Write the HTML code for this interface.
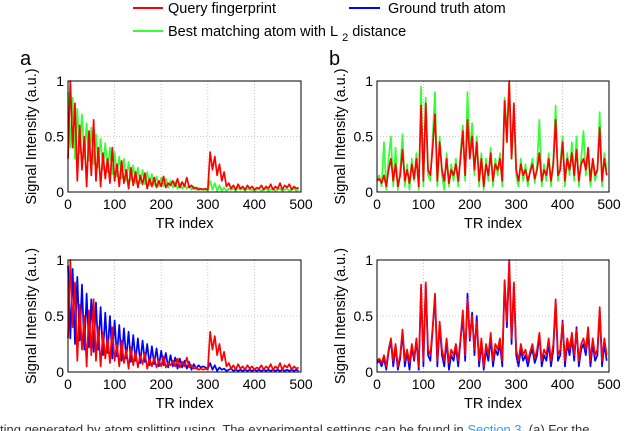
<!DOCTYPE html>
<html><head><meta charset="utf-8"><style>
body{margin:0;background:#fff;width:640px;height:431px;overflow:hidden;font-family:"Liberation Sans",sans-serif}
svg{display:block}
</style></head><body>
<svg id="c" width="640" height="431" font-family="Liberation Sans, sans-serif">
<g>
<line x1="133" y1="8" x2="163" y2="8" stroke="#f00" stroke-width="2"/>
<text x="168" y="13" font-size="14.5">Query fingerprint</text>
<line x1="349" y1="8" x2="380" y2="8" stroke="#00f" stroke-width="2"/>
<text x="388" y="13" font-size="14.5">Ground truth atom</text>
<line x1="133" y1="31" x2="163" y2="31" stroke="#3f3" stroke-width="2"/>
<text x="168" y="36" font-size="14.5">Best matching atom with L<tspan font-size="11" dx="4" dy="5">2</tspan><tspan dx="4" dy="-5">distance</tspan></text>
</g>
<text x="20" y="65" font-size="20">a</text>
<text x="329" y="65" font-size="20">b</text>
<text x="0" y="434" font-size="13" fill="#333">ting generated by atom splitting using. The experimental settings can be found in <tspan fill="#39f">Section 3</tspan>. (a) For the</text>
</svg>
<script>
const xTicks=[0,100,200,300,400,500];
const yTicks=[0,0.5,1];
const aQuery=[0.3,1.0,0.4,0.8,0.1,0.6,0.2,0.5,0.05,0.55,0.15,0.65,0.1,0.4,0.05,0.35,0.12,0.3,0.08,0.4,
0.1,0.25,0.05,0.28,0.08,0.2,0.03,0.22,0.06,0.18,0.04,0.15,0.07,0.17,0.03,0.12,0.05,0.13,0.04,0.1,
0.05,0.14,0.04,0.08,0.06,0.1,0.05,0.12,0.04,0.09,0.05,0.13,0.04,0.06,0.03,0.04,0.02,0.03,0.02,0.03,
0.02,0.36,0.2,0.32,0.15,0.25,0.1,0.18,0.05,0.08,0.03,0.06,0.02,0.07,0.03,0.05,0.02,0.06,0.03,0.05,
0.02,0.04,0.03,0.06,0.02,0.05,0.03,0.07,0.02,0.05,0.03,0.08,0.02,0.06,0.04,0.07,0.02,0.05,0.03,0.04];
const aBest=[0.9,0.4,0.85,0.3,0.75,0.35,0.7,0.3,0.62,0.28,0.58,0.25,0.52,0.22,0.48,0.2,0.44,0.18,0.4,0.16,
0.36,0.14,0.32,0.12,0.3,0.1,0.27,0.1,0.24,0.08,0.22,0.08,0.2,0.07,0.18,0.06,0.16,0.06,0.14,0.05,
0.13,0.05,0.12,0.04,0.1,0.04,0.09,0.03,0.08,0.03,0.07,0.03,0.06,0.02,0.05,0.02,0.04,0.02,0.03,0.02,
0.01,0.1,0.02,0.08,0.01,0.06,0.01,0.04,0.01,0.03,0.02,0.03,0.01,0.04,0.02,0.03,0.01,0.03,0.02,0.02,
0.01,0.02,0.03,0.01,0.02,0.03,0.01,0.02,0.03,0.01,0.02,0.03,0.01,0.02,0.03,0.01,0.02,0.03,0.01,0.02];
const aTruth=[0.95,0.3,0.92,0.25,0.85,0.28,0.78,0.2,0.7,0.22,0.65,0.18,0.62,0.2,0.58,0.15,0.53,0.17,0.5,0.12,
0.46,0.14,0.42,0.1,0.39,0.12,0.36,0.09,0.33,0.1,0.3,0.08,0.28,0.09,0.25,0.06,0.23,0.07,0.21,0.05,
0.19,0.06,0.17,0.04,0.15,0.05,0.13,0.03,0.12,0.04,0.1,0.03,0.09,0.02,0.07,0.03,0.06,0.04,0.05,0.04,
0.03,0.08,0.02,0.06,0.01,0.04,0.02,0.03,0.01,0.02,0.03,0.01,0.02,0.01,0.02,0.01,0.02,0.01,0.02,0.01,
0.02,0.01,0.02,0.01,0.02,0.01,0.02,0.01,0.02,0.01,0.02,0.01,0.02,0.01,0.02,0.01,0.02,0.01,0.02,0.01];
const bQuery=[0.1,0.12,0.08,0.15,0.05,0.2,0.3,0.1,0.25,0.05,0.15,0.38,0.1,0.2,0.08,0.25,0.12,0.3,0.05,0.78,
0.1,0.8,0.2,0.15,0.4,0.7,0.1,0.45,0.2,0.1,0.3,0.08,0.2,0.15,0.25,0.1,0.3,0.55,0.15,0.65,
0.3,0.5,0.2,0.45,0.1,0.3,0.05,0.25,0.15,0.35,0.1,0.25,0.2,0.3,0.1,0.82,0.45,1.0,0.3,0.8,
0.2,0.1,0.25,0.15,0.2,0.1,0.18,0.25,0.12,0.2,0.35,0.1,0.2,0.15,0.3,0.1,0.25,0.65,0.15,0.2,
0.45,0.1,0.3,0.2,0.35,0.15,0.38,0.1,0.25,0.3,0.2,0.4,0.1,0.3,0.15,0.2,0.58,0.1,0.3,0.15];
const bBest=[0.12,0.15,0.05,0.45,0.02,0.3,0.5,0.05,0.4,0.02,0.2,0.52,0.05,0.25,0.02,0.3,0.1,0.35,0.02,0.95,
0.05,0.85,0.15,0.1,0.5,0.9,0.05,0.5,0.15,0.02,0.35,0.05,0.25,0.1,0.3,0.05,0.35,0.6,0.1,0.9,
0.35,0.62,0.15,0.5,0.05,0.35,0.02,0.3,0.1,0.4,0.05,0.3,0.15,0.35,0.05,0.85,0.55,0.98,0.3,0.75,
0.15,0.05,0.3,0.1,0.25,0.05,0.2,0.3,0.08,0.25,0.65,0.05,0.25,0.1,0.35,0.05,0.3,0.78,0.1,0.25,
0.5,0.05,0.35,0.15,0.45,0.1,0.5,0.05,0.3,0.55,0.15,0.35,0.05,0.3,0.1,0.2,0.72,0.05,0.35,0.2];
const bTruth=[0.08,0.1,0.05,0.12,0.02,0.18,0.28,0.05,0.22,0.02,0.12,0.35,0.05,0.18,0.02,0.22,0.1,0.28,0.02,0.75,
0.05,0.78,0.15,0.1,0.38,0.68,0.05,0.42,0.15,0.05,0.28,0.02,0.15,0.1,0.22,0.05,0.28,0.5,0.1,0.7,
0.28,0.53,0.15,0.5,0.05,0.25,0.02,0.2,0.1,0.3,0.05,0.2,0.15,0.25,0.05,0.8,0.4,0.98,0.25,0.78,
0.15,0.05,0.2,0.1,0.15,0.05,0.15,0.2,0.08,0.15,0.33,0.05,0.15,0.1,0.25,0.05,0.2,0.62,0.1,0.15,
0.46,0.05,0.25,0.15,0.3,0.1,0.4,0.05,0.2,0.25,0.15,0.35,0.05,0.25,0.1,0.15,0.55,0.05,0.25,0.1];
const trStep=5;
const svg=document.getElementById('c');
const NS='http://www.w3.org/2000/svg';
function mk(tag,attrs,parent){const e=document.createElementNS(NS,tag);for(const k in attrs)e.setAttribute(k,attrs[k]);parent.appendChild(e);return e;}
function panel(name,L,R,T,B,series){
  const g=mk('g',{},svg);
  
  
  const sx=v=>L+(R-L)*v/500, sy=v=>B-(B-T)*v;
  xTicks.forEach(t=>{
    if(t>0&&t<500){const l=mk('line',{x1:sx(t),x2:sx(t),y1:T,y2:B,stroke:'#bbb','stroke-dasharray':'1,2','stroke-width':0.8},g);
    
    }
    const tx=mk('text',{x:sx(t),y:B+17,'font-size':14,'text-anchor':'middle'},g);tx.textContent=t;
    
    
  });
  yTicks.forEach(t=>{
    if(t>0&&t<1){const l=mk('line',{x1:L,x2:R,y1:sy(t),y2:sy(t),stroke:'#bbb','stroke-dasharray':'1,2','stroke-width':0.8},g);
    
    }
    const tx=mk('text',{x:L-4,y:sy(t)+5,'font-size':14,'text-anchor':'end'},g);tx.textContent=t;
    
    
  });
  series.forEach(([arr,col,nm])=>{
    const p=mk('polyline',{points:arr.map((v,i)=>sx(i*trStep)+','+sy(v)).join(' '),fill:'none',stroke:col,'stroke-width':1.7,'stroke-linejoin':'round'},g);
    
    
  });
  const box=mk('rect',{x:L,y:T,width:R-L,height:B-T,fill:'none',stroke:'#000','stroke-width':1},g);
  
  
  const xl=mk('text',{x:(L+R)/2,y:B+36,'font-size':14.5,'text-anchor':'middle'},g);xl.textContent='TR index';
  
  
  const yx=L-32,yy=(T+B)/2;
  const yl=mk('text',{x:yx,y:yy,'font-size':14.5,'text-anchor':'middle',transform:`rotate(-90 ${yx} ${yy})`},g);yl.textContent='Signal Intensity (a.u.)';
  
  
}
panel('panel-a-top',68,301,81,192,[[aBest,'#3f3','best-match-line'],[aQuery,'#f00','query-line']]);
panel('panel-b-top',377,609,81,192,[[bBest,'#3f3','best-match-line'],[bQuery,'#f00','query-line']]);
panel('panel-a-bottom',68,301,260,372,[[aTruth,'#00f','ground-truth-line'],[aQuery,'#f00','query-line']]);
panel('panel-b-bottom',377,609,260,372,[[bTruth,'#00f','ground-truth-line'],[bQuery,'#f00','query-line']]);
</script>
</body></html>
